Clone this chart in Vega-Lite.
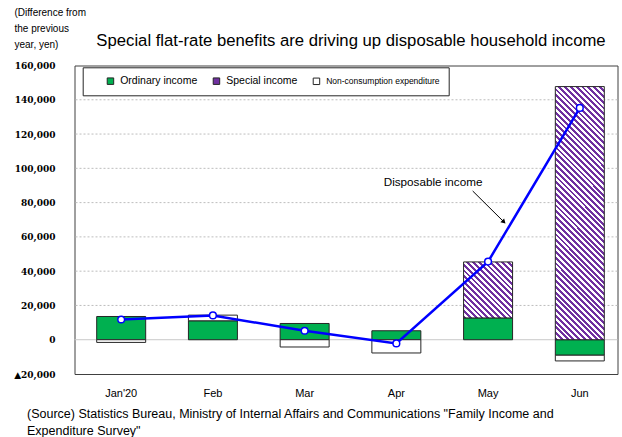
{
"$schema": "https://vega.github.io/schema/vega-lite/v6.json",
"width": 543,
"height": 308.5,
"autosize": {"type": "none"},
"padding": {"left": 74.5, "top": 65.5, "right": 4.5, "bottom": 63},
"background": "#ffffff",
"params": [{"name": "stripes", "value": [
{"offset":0,"color":"#7030a0"},{"offset":0.005,"color":"#7030a0"},{"offset":0.005,"color":"#fff"},{"offset":0.01,"color":"#fff"},
{"offset":0.01,"color":"#7030a0"},{"offset":0.015,"color":"#7030a0"},{"offset":0.015,"color":"#fff"},{"offset":0.02,"color":"#fff"},
{"offset":0.02,"color":"#7030a0"},{"offset":0.025,"color":"#7030a0"},{"offset":0.025,"color":"#fff"},{"offset":0.03,"color":"#fff"},
{"offset":0.03,"color":"#7030a0"},{"offset":0.035,"color":"#7030a0"},{"offset":0.035,"color":"#fff"},{"offset":0.04,"color":"#fff"},
{"offset":0.04,"color":"#7030a0"},{"offset":0.045,"color":"#7030a0"},{"offset":0.045,"color":"#fff"},{"offset":0.05,"color":"#fff"},
{"offset":0.05,"color":"#7030a0"},{"offset":0.055,"color":"#7030a0"},{"offset":0.055,"color":"#fff"},{"offset":0.06,"color":"#fff"},
{"offset":0.06,"color":"#7030a0"},{"offset":0.065,"color":"#7030a0"},{"offset":0.065,"color":"#fff"},{"offset":0.07,"color":"#fff"},
{"offset":0.07,"color":"#7030a0"},{"offset":0.075,"color":"#7030a0"},{"offset":0.075,"color":"#fff"},{"offset":0.08,"color":"#fff"},
{"offset":0.08,"color":"#7030a0"},{"offset":0.085,"color":"#7030a0"},{"offset":0.085,"color":"#fff"},{"offset":0.09,"color":"#fff"},
{"offset":0.09,"color":"#7030a0"},{"offset":0.095,"color":"#7030a0"},{"offset":0.095,"color":"#fff"},{"offset":0.1,"color":"#fff"},
{"offset":0.1,"color":"#7030a0"},{"offset":0.105,"color":"#7030a0"},{"offset":0.105,"color":"#fff"},{"offset":0.11,"color":"#fff"},
{"offset":0.11,"color":"#7030a0"},{"offset":0.115,"color":"#7030a0"},{"offset":0.115,"color":"#fff"},{"offset":0.12,"color":"#fff"},
{"offset":0.12,"color":"#7030a0"},{"offset":0.125,"color":"#7030a0"},{"offset":0.125,"color":"#fff"},{"offset":0.13,"color":"#fff"},
{"offset":0.13,"color":"#7030a0"},{"offset":0.135,"color":"#7030a0"},{"offset":0.135,"color":"#fff"},{"offset":0.14,"color":"#fff"},
{"offset":0.14,"color":"#7030a0"},{"offset":0.145,"color":"#7030a0"},{"offset":0.145,"color":"#fff"},{"offset":0.15,"color":"#fff"},
{"offset":0.15,"color":"#7030a0"},{"offset":0.155,"color":"#7030a0"},{"offset":0.155,"color":"#fff"},{"offset":0.16,"color":"#fff"},
{"offset":0.16,"color":"#7030a0"},{"offset":0.165,"color":"#7030a0"},{"offset":0.165,"color":"#fff"},{"offset":0.17,"color":"#fff"},
{"offset":0.17,"color":"#7030a0"},{"offset":0.175,"color":"#7030a0"},{"offset":0.175,"color":"#fff"},{"offset":0.18,"color":"#fff"},
{"offset":0.18,"color":"#7030a0"},{"offset":0.185,"color":"#7030a0"},{"offset":0.185,"color":"#fff"},{"offset":0.19,"color":"#fff"},
{"offset":0.19,"color":"#7030a0"},{"offset":0.195,"color":"#7030a0"},{"offset":0.195,"color":"#fff"},{"offset":0.2,"color":"#fff"},
{"offset":0.2,"color":"#7030a0"},{"offset":0.205,"color":"#7030a0"},{"offset":0.205,"color":"#fff"},{"offset":0.21,"color":"#fff"},
{"offset":0.21,"color":"#7030a0"},{"offset":0.215,"color":"#7030a0"},{"offset":0.215,"color":"#fff"},{"offset":0.22,"color":"#fff"},
{"offset":0.22,"color":"#7030a0"},{"offset":0.225,"color":"#7030a0"},{"offset":0.225,"color":"#fff"},{"offset":0.23,"color":"#fff"},
{"offset":0.23,"color":"#7030a0"},{"offset":0.235,"color":"#7030a0"},{"offset":0.235,"color":"#fff"},{"offset":0.24,"color":"#fff"},
{"offset":0.24,"color":"#7030a0"},{"offset":0.245,"color":"#7030a0"},{"offset":0.245,"color":"#fff"},{"offset":0.25,"color":"#fff"},
{"offset":0.25,"color":"#7030a0"},{"offset":0.255,"color":"#7030a0"},{"offset":0.255,"color":"#fff"},{"offset":0.26,"color":"#fff"},
{"offset":0.26,"color":"#7030a0"},{"offset":0.265,"color":"#7030a0"},{"offset":0.265,"color":"#fff"},{"offset":0.27,"color":"#fff"},
{"offset":0.27,"color":"#7030a0"},{"offset":0.275,"color":"#7030a0"},{"offset":0.275,"color":"#fff"},{"offset":0.28,"color":"#fff"},
{"offset":0.28,"color":"#7030a0"},{"offset":0.285,"color":"#7030a0"},{"offset":0.285,"color":"#fff"},{"offset":0.29,"color":"#fff"},
{"offset":0.29,"color":"#7030a0"},{"offset":0.295,"color":"#7030a0"},{"offset":0.295,"color":"#fff"},{"offset":0.3,"color":"#fff"},
{"offset":0.3,"color":"#7030a0"},{"offset":0.305,"color":"#7030a0"},{"offset":0.305,"color":"#fff"},{"offset":0.31,"color":"#fff"},
{"offset":0.31,"color":"#7030a0"},{"offset":0.315,"color":"#7030a0"},{"offset":0.315,"color":"#fff"},{"offset":0.32,"color":"#fff"},
{"offset":0.32,"color":"#7030a0"},{"offset":0.325,"color":"#7030a0"},{"offset":0.325,"color":"#fff"},{"offset":0.33,"color":"#fff"},
{"offset":0.33,"color":"#7030a0"},{"offset":0.335,"color":"#7030a0"},{"offset":0.335,"color":"#fff"},{"offset":0.34,"color":"#fff"},
{"offset":0.34,"color":"#7030a0"},{"offset":0.345,"color":"#7030a0"},{"offset":0.345,"color":"#fff"},{"offset":0.35,"color":"#fff"},
{"offset":0.35,"color":"#7030a0"},{"offset":0.355,"color":"#7030a0"},{"offset":0.355,"color":"#fff"},{"offset":0.36,"color":"#fff"},
{"offset":0.36,"color":"#7030a0"},{"offset":0.365,"color":"#7030a0"},{"offset":0.365,"color":"#fff"},{"offset":0.37,"color":"#fff"},
{"offset":0.37,"color":"#7030a0"},{"offset":0.375,"color":"#7030a0"},{"offset":0.375,"color":"#fff"},{"offset":0.38,"color":"#fff"},
{"offset":0.38,"color":"#7030a0"},{"offset":0.385,"color":"#7030a0"},{"offset":0.385,"color":"#fff"},{"offset":0.39,"color":"#fff"},
{"offset":0.39,"color":"#7030a0"},{"offset":0.395,"color":"#7030a0"},{"offset":0.395,"color":"#fff"},{"offset":0.4,"color":"#fff"},
{"offset":0.4,"color":"#7030a0"},{"offset":0.405,"color":"#7030a0"},{"offset":0.405,"color":"#fff"},{"offset":0.41,"color":"#fff"},
{"offset":0.41,"color":"#7030a0"},{"offset":0.415,"color":"#7030a0"},{"offset":0.415,"color":"#fff"},{"offset":0.42,"color":"#fff"},
{"offset":0.42,"color":"#7030a0"},{"offset":0.425,"color":"#7030a0"},{"offset":0.425,"color":"#fff"},{"offset":0.43,"color":"#fff"},
{"offset":0.43,"color":"#7030a0"},{"offset":0.435,"color":"#7030a0"},{"offset":0.435,"color":"#fff"},{"offset":0.44,"color":"#fff"},
{"offset":0.44,"color":"#7030a0"},{"offset":0.445,"color":"#7030a0"},{"offset":0.445,"color":"#fff"},{"offset":0.45,"color":"#fff"},
{"offset":0.45,"color":"#7030a0"},{"offset":0.455,"color":"#7030a0"},{"offset":0.455,"color":"#fff"},{"offset":0.46,"color":"#fff"},
{"offset":0.46,"color":"#7030a0"},{"offset":0.465,"color":"#7030a0"},{"offset":0.465,"color":"#fff"},{"offset":0.47,"color":"#fff"},
{"offset":0.47,"color":"#7030a0"},{"offset":0.475,"color":"#7030a0"},{"offset":0.475,"color":"#fff"},{"offset":0.48,"color":"#fff"},
{"offset":0.48,"color":"#7030a0"},{"offset":0.485,"color":"#7030a0"},{"offset":0.485,"color":"#fff"},{"offset":0.49,"color":"#fff"},
{"offset":0.49,"color":"#7030a0"},{"offset":0.495,"color":"#7030a0"},{"offset":0.495,"color":"#fff"},{"offset":0.5,"color":"#fff"},
{"offset":0.5,"color":"#7030a0"},{"offset":0.505,"color":"#7030a0"},{"offset":0.505,"color":"#fff"},{"offset":0.51,"color":"#fff"},
{"offset":0.51,"color":"#7030a0"},{"offset":0.515,"color":"#7030a0"},{"offset":0.515,"color":"#fff"},{"offset":0.52,"color":"#fff"},
{"offset":0.52,"color":"#7030a0"},{"offset":0.525,"color":"#7030a0"},{"offset":0.525,"color":"#fff"},{"offset":0.53,"color":"#fff"},
{"offset":0.53,"color":"#7030a0"},{"offset":0.535,"color":"#7030a0"},{"offset":0.535,"color":"#fff"},{"offset":0.54,"color":"#fff"}
]}],
"title": {
  "text": "Special flat-rate benefits are driving up disposable household income",
  "anchor": "middle", "frame": "group", "dx": 5, "offset": -55.5, "baseline": "alphabetic",
  "font": "Liberation Sans",
  "fontSize": 16.7, "fontWeight": "normal", "color": "#000000"
},
"datasets": {
  "grid": [
    {"level": 20000}, {"level": 40000}, {"level": 60000}, {"level": 80000},
    {"level": 100000}, {"level": 120000}, {"level": 140000}
  ],
  "comp": [
    {"month": "Jan'20", "series": "Ordinary income", "value": 13550},
    {"month": "Jan'20", "series": "Non-consumption expenditure", "value": -1570},
    {"month": "Feb", "series": "Ordinary income", "value": 11050},
    {"month": "Feb", "series": "Non-consumption expenditure", "value": 3300},
    {"month": "Mar", "series": "Ordinary income", "value": 9480},
    {"month": "Mar", "series": "Non-consumption expenditure", "value": -4240},
    {"month": "Apr", "series": "Ordinary income", "value": 5230},
    {"month": "Apr", "series": "Non-consumption expenditure", "value": -7730},
    {"month": "May", "series": "Ordinary income", "value": 12720},
    {"month": "May", "series": "Special income", "value": 32670},
    {"month": "Jun", "series": "Ordinary income", "value": -9040},
    {"month": "Jun", "series": "Special income", "value": 147700},
    {"month": "Jun", "series": "Non-consumption expenditure", "value": -3330}
  ],
  "disp": [
    {"month": "Jan'20", "disposable": 11800},
    {"month": "Feb", "disposable": 14150},
    {"month": "Mar", "disposable": 5230},
    {"month": "Apr", "disposable": -2150},
    {"month": "May", "disposable": 45570},
    {"month": "Jun", "disposable": 135250}
  ]
},
"layer": [
  {
    "data": {"name": "grid"},
    "mark": {"type": "rule", "color": "#bdbdbd", "strokeWidth": 1, "strokeDash": [2, 2]},
    "encoding": {
      "y": {"field": "level", "type": "quantitative", "scale": {"domain": [-20000, 160000], "nice": false},
        "axis": {"values": [-20000, 0, 20000, 40000, 60000, 80000, 100000, 120000, 140000, 160000], "labelExpr": "datum.value < 0 ? '▲' + format(-datum.value, ',') : format(datum.value, ',')", "labelOverlap": false, "grid": false, "ticks": false, "domain": false, "labelFont": "DejaVu Serif", "labelFontWeight": "bold", "labelFontSize": 9, "labelColor": "#000000", "labelPadding": 19.5, "title": ["(Difference from", "the previous", "year, yen)"], "titleX": -60.5, "titleY": -50, "titleAngle": 0, "titleAlign": "left", "titleBaseline": "alphabetic", "titleFont": "Liberation Sans", "titleFontSize": 10, "titleFontWeight": "normal", "titleColor": "#000000", "titleLineHeight": 16}}
    }
  },
  {
    "data": {"values": [{}]},
    "mark": {"type": "rule", "color": "#c8c8c8", "strokeWidth": 1},
    "encoding": {
      "y": {"datum": 0, "scale": {"domain": [-20000, 160000], "nice": false},
        "axis": {"values": [-20000, 0, 20000, 40000, 60000, 80000, 100000, 120000, 140000, 160000], "labelExpr": "datum.value < 0 ? '▲' + format(-datum.value, ',') : format(datum.value, ',')", "labelOverlap": false, "grid": false, "ticks": false, "domain": false, "labelFont": "DejaVu Serif", "labelFontWeight": "bold", "labelFontSize": 9, "labelColor": "#000000", "labelPadding": 19.5, "title": ["(Difference from", "the previous", "year, yen)"], "titleX": -60.5, "titleY": -50, "titleAngle": 0, "titleAlign": "left", "titleBaseline": "alphabetic", "titleFont": "Liberation Sans", "titleFontSize": 10, "titleFontWeight": "normal", "titleColor": "#000000", "titleLineHeight": 16}}
    }
  },
  {
    "data": {"name": "comp"},
    "transform": [{"calculate": "indexof(['Ordinary income','Special income','Non-consumption expenditure'], datum.series)", "as": "ord"}],
    "mark": {"type": "bar", "stroke": "#262626", "strokeWidth": 1},
    "encoding": {
      "x": {
        "field": "month", "type": "nominal",
        "scale": {"domain": ["Jan'20", "Feb", "Mar", "Apr", "May", "Jun"], "paddingInner": 0.466, "paddingOuter": 0.193, "align": 0.627},
        "axis": {
          "ticks": false, "tickSize": 0, "domain": false, "labelAngle": 0, "grid": false,
          "labelFont": "Liberation Sans", "labelFontSize": 11, "labelColor": "#000000", "labelPadding": 13,
          "title": ["\u00a0(Source) Statistics Bureau, Ministry of Internal Affairs and Communications \"Family Income and", "Expenditure Survey\""],
          "titleX": -48, "titleY": 43, "titleAlign": "left", "titleAnchor": "start", "titleBaseline": "alphabetic",
          "titleFont": "Liberation Sans", "titleFontSize": 12.5, "titleFontWeight": "normal", "titleColor": "#000000", "titleLineHeight": 17.5
        }
      },
      "y": {
        "field": "value", "type": "quantitative", "stack": "zero",
        "scale": {"domain": [-20000, 160000], "nice": false},
        "axis": {"values": [-20000, 0, 20000, 40000, 60000, 80000, 100000, 120000, 140000, 160000], "labelExpr": "datum.value < 0 ? '▲' + format(-datum.value, ',') : format(datum.value, ',')", "labelOverlap": false, "grid": false, "ticks": false, "domain": false, "labelFont": "DejaVu Serif", "labelFontWeight": "bold", "labelFontSize": 9, "labelColor": "#000000", "labelPadding": 19.5, "title": ["(Difference from", "the previous", "year, yen)"], "titleX": -60.5, "titleY": -50, "titleAngle": 0, "titleAlign": "left", "titleBaseline": "alphabetic", "titleFont": "Liberation Sans", "titleFontSize": 10, "titleFontWeight": "normal", "titleColor": "#000000", "titleLineHeight": 16}
      },
      "fill": {
        "field": "series", "type": "nominal",
        "scale": {"domain": ["Ordinary income", "Special income", "Non-consumption expenditure"], "range": ["#00b050", "#7030a0", "#ffffff"]},
        "condition": [
          {"test": "datum.series === 'Special income' && datum.month === 'Jun'", "value": {"expr": "{gradient: 'linear', x1: 0, y1: 1, x2: 0.42762, y2: -1.20878, stops: stripes}"}},
          {"test": "datum.series === 'Special income' && datum.month === 'May'", "value": {"expr": "{gradient: 'linear', x1: 0, y1: 1, x2: 5.1338, y2: -4.8661, stops: stripes}"}}
        ],
        "legend": {
          "orient": "none", "legendX": 8.2, "legendY": 1.8, "direction": "horizontal",
          "title": "\u00a0", "titleOrient": "left", "titlePadding": 14, "titleFontSize": 10.5,
          "padding": 8.5, "strokeColor": "#262626", "fillColor": "#ffffff",
          "symbolType": "square", "symbolSize": 42, "symbolStrokeColor": "#262626", "symbolStrokeWidth": 1, "symbolOpacity": 1,
          "labelFont": "Liberation Sans", "labelFontSize": 10.5, "labelColor": "#000000", "labelOffset": 4.5, "columnPadding": 13,
          "encode": {
            "labels": {"update": {"fontSize": {"signal": "datum.label === 'Non-consumption expenditure' ? 8.5 : 10.5"}}},
            "symbols": {"update": {
              "fill": [
                {"test": "datum.label === 'Special income'", "signal": "{gradient: 'linear', x1: 0, y1: 1, x2: 44.74, y2: -43.74, stops: stripes}"},
                {"scale": "fill", "field": "value"}
              ],
              "stroke": {"value": "#262626"},
              "strokeWidth": {"value": 1},
              "opacity": {"value": 1}
            }}
          }
        }
      },
      "order": {"field": "ord", "type": "quantitative"}
    }
  },
  {
    "data": {"name": "disp"},
    "mark": {"type": "line", "color": "#0000ff", "strokeWidth": 2.5},
    "encoding": {
      "x": {"field": "month", "type": "nominal", "scale": {"domain": ["Jan'20", "Feb", "Mar", "Apr", "May", "Jun"]}},
      "y": {"field": "disposable", "type": "quantitative", "scale": {"domain": [-20000, 160000], "nice": false},
        "axis": {"values": [-20000, 0, 20000, 40000, 60000, 80000, 100000, 120000, 140000, 160000], "labelExpr": "datum.value < 0 ? '▲' + format(-datum.value, ',') : format(datum.value, ',')", "labelOverlap": false, "grid": false, "ticks": false, "domain": false, "labelFont": "DejaVu Serif", "labelFontWeight": "bold", "labelFontSize": 9, "labelColor": "#000000", "labelPadding": 19.5, "title": ["(Difference from", "the previous", "year, yen)"], "titleX": -60.5, "titleY": -50, "titleAngle": 0, "titleAlign": "left", "titleBaseline": "alphabetic", "titleFont": "Liberation Sans", "titleFontSize": 10, "titleFontWeight": "normal", "titleColor": "#000000", "titleLineHeight": 16}}
    }
  },
  {
    "data": {"name": "disp"},
    "mark": {"type": "point", "filled": true, "fill": "#ffffff", "stroke": "#0000ff", "strokeWidth": 1.5, "size": 45, "opacity": 1},
    "encoding": {
      "x": {"field": "month", "type": "nominal", "scale": {"domain": ["Jan'20", "Feb", "Mar", "Apr", "May", "Jun"]}},
      "y": {"field": "disposable", "type": "quantitative", "scale": {"domain": [-20000, 160000], "nice": false},
        "axis": {"values": [-20000, 0, 20000, 40000, 60000, 80000, 100000, 120000, 140000, 160000], "labelExpr": "datum.value < 0 ? '▲' + format(-datum.value, ',') : format(datum.value, ',')", "labelOverlap": false, "grid": false, "ticks": false, "domain": false, "labelFont": "DejaVu Serif", "labelFontWeight": "bold", "labelFontSize": 9, "labelColor": "#000000", "labelPadding": 19.5, "title": ["(Difference from", "the previous", "year, yen)"], "titleX": -60.5, "titleY": -50, "titleAngle": 0, "titleAlign": "left", "titleBaseline": "alphabetic", "titleFont": "Liberation Sans", "titleFontSize": 10, "titleFontWeight": "normal", "titleColor": "#000000", "titleLineHeight": 16}}
    }
  },
  {
    "data": {"values": [{}]},
    "mark": {"type": "text", "text": "Disposable income", "dx": -55, "font": "Liberation Sans", "fontSize": 11.7, "color": "#000000"},
    "encoding": {
      "x": {"datum": "May"},
      "y": {"datum": 92200,
        "axis": {"values": [-20000, 0, 20000, 40000, 60000, 80000, 100000, 120000, 140000, 160000], "labelExpr": "datum.value < 0 ? '▲' + format(-datum.value, ',') : format(datum.value, ',')", "labelOverlap": false, "grid": false, "ticks": false, "domain": false, "labelFont": "DejaVu Serif", "labelFontWeight": "bold", "labelFontSize": 9, "labelColor": "#000000", "labelPadding": 19.5, "title": ["(Difference from", "the previous", "year, yen)"], "titleX": -60.5, "titleY": -50, "titleAngle": 0, "titleAlign": "left", "titleBaseline": "alphabetic", "titleFont": "Liberation Sans", "titleFontSize": 10, "titleFontWeight": "normal", "titleColor": "#000000", "titleLineHeight": 16}}
    }
  },
  {
    "data": {"values": [{}]},
    "mark": {"type": "rule", "color": "#000000", "strokeWidth": 1, "xOffset": -15.4, "x2Offset": 15.8},
    "encoding": {
      "x": {"datum": "May"},
      "x2": {"datum": "May"},
      "y": {"datum": 86775,
        "axis": {"values": [-20000, 0, 20000, 40000, 60000, 80000, 100000, 120000, 140000, 160000], "labelExpr": "datum.value < 0 ? '▲' + format(-datum.value, ',') : format(datum.value, ',')", "labelOverlap": false, "grid": false, "ticks": false, "domain": false, "labelFont": "DejaVu Serif", "labelFontWeight": "bold", "labelFontSize": 9, "labelColor": "#000000", "labelPadding": 19.5, "title": ["(Difference from", "the previous", "year, yen)"], "titleX": -60.5, "titleY": -50, "titleAngle": 0, "titleAlign": "left", "titleBaseline": "alphabetic", "titleFont": "Liberation Sans", "titleFontSize": 10, "titleFontWeight": "normal", "titleColor": "#000000", "titleLineHeight": 16}},
      "y2": {"datum": 68745}
    }
  },
  {
    "data": {"values": [{}]},
    "mark": {"type": "point", "shape": "triangle-up", "angle": 135, "size": 28, "filled": true, "color": "#000000", "opacity": 1, "xOffset": 15.8},
    "encoding": {
      "x": {"datum": "May"},
      "y": {"datum": 68745,
        "axis": {"values": [-20000, 0, 20000, 40000, 60000, 80000, 100000, 120000, 140000, 160000], "labelExpr": "datum.value < 0 ? '▲' + format(-datum.value, ',') : format(datum.value, ',')", "labelOverlap": false, "grid": false, "ticks": false, "domain": false, "labelFont": "DejaVu Serif", "labelFontWeight": "bold", "labelFontSize": 9, "labelColor": "#000000", "labelPadding": 19.5, "title": ["(Difference from", "the previous", "year, yen)"], "titleX": -60.5, "titleY": -50, "titleAngle": 0, "titleAlign": "left", "titleBaseline": "alphabetic", "titleFont": "Liberation Sans", "titleFontSize": 10, "titleFontWeight": "normal", "titleColor": "#000000", "titleLineHeight": 16}}
    }
  }
],
"config": {
  "view": {"stroke": "#404040", "strokeWidth": 1},
  "font": "Liberation Sans",
  "axisY": {
    "grid": false, "labelOverlap": false,
    "labelFont": "DejaVu Serif", "labelFontWeight": "bold", "labelFontSize": 9, "labelColor": "#000000",
    "labelPadding": 19.5, "ticks": false, "tickSize": 0, "domain": false
  },
  "axisX": {
    "grid": false, "ticks": false, "tickSize": 0, "domain": false, "labelAngle": 0,
    "labelFont": "Liberation Sans", "labelFontSize": 11, "labelColor": "#000000", "labelPadding": 13
  }
}
}
